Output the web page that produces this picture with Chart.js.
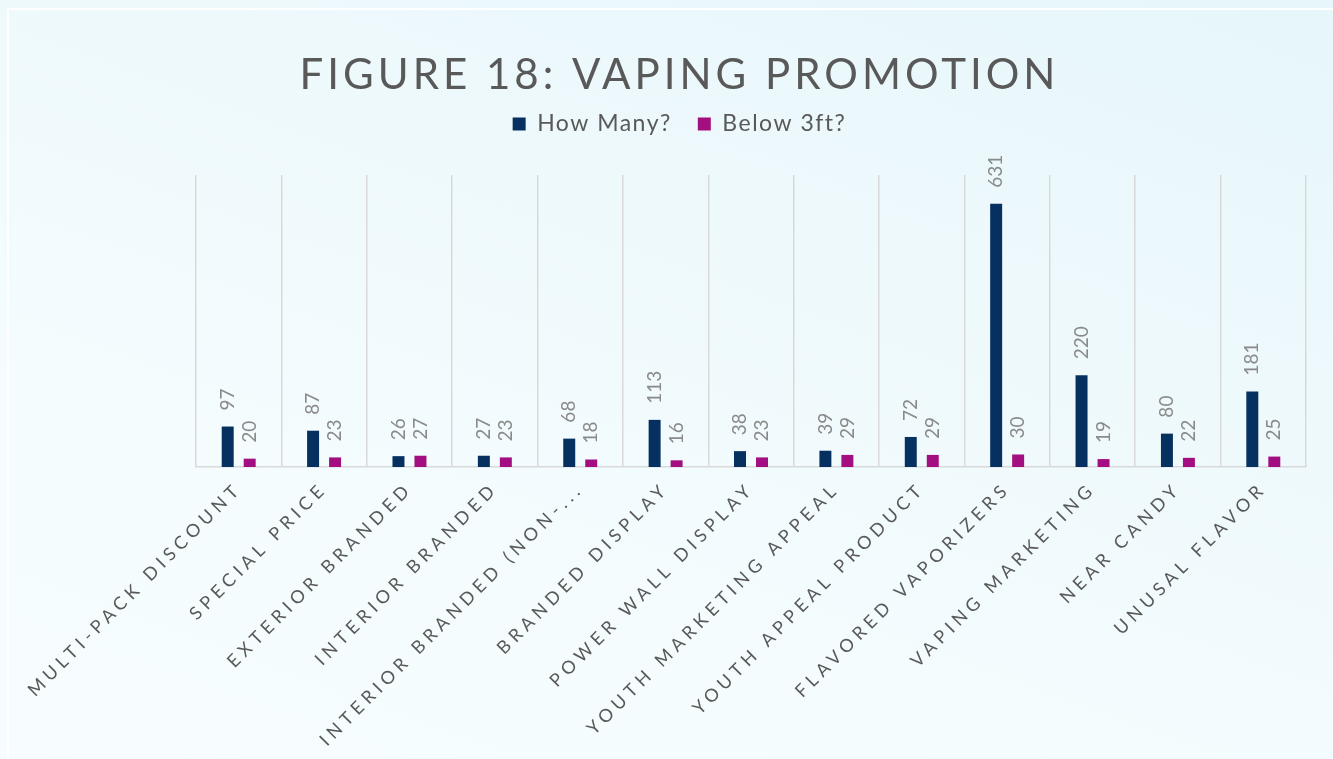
<!DOCTYPE html>
<html><head><meta charset="utf-8">
<script src="https://cdn.jsdelivr.net/npm/chart.js@4.4.1/dist/chart.umd.min.js"></script>
<style>
html,body{margin:0;padding:0;}
body{width:1333px;height:759px;overflow:hidden;position:relative;
  background:linear-gradient(200deg,#e6f6fb 0%,#eef9fc 35%,#f4fcfe 70%,#f7fdfe 100%);}
#frame{position:absolute;left:7px;top:8px;width:1340px;height:770px;border-left:2px solid rgba(255,255,255,0.95);border-top:2px solid rgba(255,255,255,0.95);}
#wrap{position:absolute;left:0;top:0;width:1333px;height:759px;}
</style></head>
<body><div id="frame"></div><div id="wrap"><canvas id="c" width="1333" height="759"></canvas></div>
<script>
const categories = ['MULTI-PACK DISCOUNT','SPECIAL PRICE','EXTERIOR BRANDED','INTERIOR BRANDED','INTERIOR BRANDED (NON-...','BRANDED DISPLAY','POWER WALL DISPLAY','YOUTH MARKETING APPEAL','YOUTH APPEAL PRODUCT','FLAVORED VAPORIZERS','VAPING MARKETING','NEAR CANDY','UNUSAL FLAVOR'];
const howMany = [97, 87, 26, 27, 68, 113, 38, 39, 72, 631, 220, 80, 181];
const below3ft = [20, 23, 27, 23, 18, 16, 23, 29, 29, 30, 19, 22, 25];
const seriesNames = ['How Many?', 'Below 3ft?'];
const seriesColors = ['#06305F', '#A30F80'];
const titleText = 'FIGURE 18: VAPING PROMOTION';

function spaced(proto, method, ls) {
  const orig = proto[method];
  proto[method] = function(...a) {
    const ctx = this.ctx; const prev = ctx.letterSpacing;
    ctx.letterSpacing = ls;
    try { return orig.apply(this, a); } finally { ctx.letterSpacing = prev; }
  };
}
spaced(Chart.Title._element.prototype, 'draw', '4px');
spaced(Chart.Legend._element.prototype, 'fit', '1.5px');
spaced(Chart.Legend._element.prototype, 'draw', '1.5px');
spaced(Chart.CategoryScale.prototype, 'drawLabels', '4.8px');

const valueLabels = {
  id: 'valueLabels',
  afterDatasetsDraw(chart) {
    const ctx = chart.ctx;
    chart.data.datasets.forEach((ds, i) => {
      const meta = chart.getDatasetMeta(i);
      meta.data.forEach((bar, j) => {
        ctx.save();
        ctx.translate(bar.x, bar.y - 16);
        ctx.rotate(-Math.PI / 2);
        ctx.font = '400 19px Lato';
        ctx.fillStyle = '#8a8a8a';
        ctx.textAlign = 'left';
        ctx.textBaseline = 'middle';
        ctx.fillText(String(ds.data[j]), 0, 0);
        ctx.restore();
      });
    });
  }
};

new Chart(document.getElementById('c'), {
  type: 'bar',
  data: {
    labels: categories,
    datasets: [
      { label: seriesNames[0], data: howMany, backgroundColor: seriesColors[0], borderWidth: 0 },
      { label: seriesNames[1], data: below3ft, backgroundColor: seriesColors[1], borderWidth: 0 }
    ]
  },
  options: {
    responsive: false,
    animation: false,
    devicePixelRatio: 1,
    categoryPercentage: 0.515,
    barPercentage: 0.545,
    layout: { padding: { left: 26, right: 0, top: 0, bottom: 0 } },
    plugins: {
      tooltip: { enabled: false },
      title: {
        display: true, text: titleText, color: '#595959',
        font: { family: 'Lato', size: 42, weight: '400', lineHeight: 1 },
        padding: { top: 54, bottom: -9.5 }
      },
      legend: {
        display: true, position: 'top',
        labels: { color: '#595959', font: { family: 'Lato', size: 23 }, boxWidth: 13, boxHeight: 13, padding: 26 }
      },
      subtitle: {
        display: true, text: '', weight: 500,
        font: { size: 1, lineHeight: 1 }, padding: { top: 28.5, bottom: 0 }
      }
    },
    scales: {
      x: {
        grid: { offset: true, color: '#d9d9d9', lineWidth: 1.5, drawTicks: false },
        border: { color: '#d9d9d9', width: 1.5 },
        ticks: { color: '#595959', font: { family: 'Lato', size: 18 }, minRotation: 45, maxRotation: 45, autoSkip: false, padding: 11 },
        afterFit(s) { s.height = 292; }
      },
      y: {
        display: true, min: 0, max: 700,
        grid: { display: false }, border: { display: false }, ticks: { display: false },
        afterFit(s) { s.width = 170; }
      },
      y2: {
        display: true, position: 'right', min: 0, max: 700,
        grid: { display: false }, border: { display: false }, ticks: { display: false },
        afterFit(s) { s.width = 27; }
      }
    }
  },
  plugins: [valueLabels]
});
</script>
</body></html>
